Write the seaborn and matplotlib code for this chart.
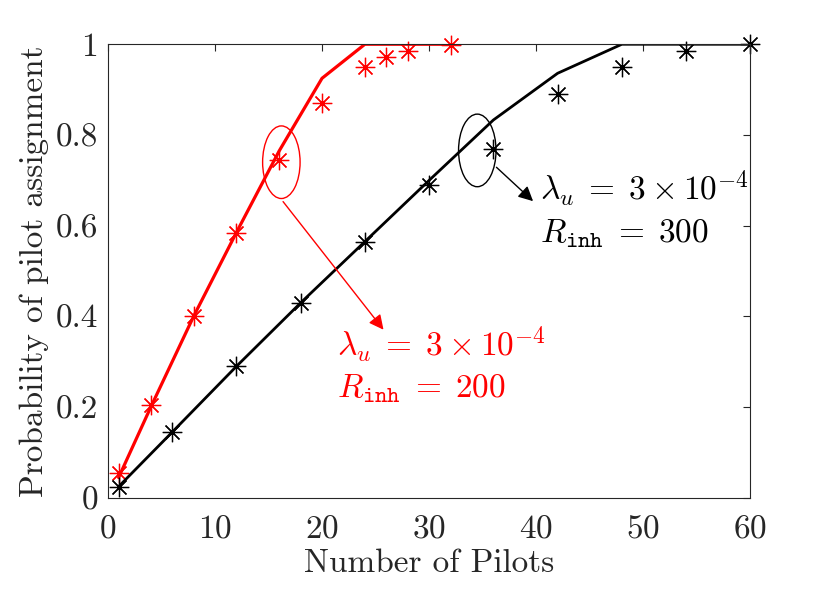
import matplotlib
matplotlib.use("Agg")
import matplotlib.pyplot as plt
from matplotlib.patches import Ellipse
import seaborn as sns

# simulation points (markers) and analytical curves (lines)
red_sim_x = [1, 4, 8, 12, 16, 20, 24, 26, 28, 32]
red_sim_y = [0.055, 0.205, 0.40, 0.585, 0.745, 0.87, 0.95, 0.972, 0.985, 0.998]
red_ana_x = [1, 4, 8, 12, 16, 20, 24, 28, 32]
red_ana_y = [0.045, 0.20, 0.40, 0.585, 0.765, 0.925, 1.0, 1.0, 1.0]

blk_sim_x = [1, 6, 12, 18, 24, 30, 36, 42, 48, 54, 60]
blk_sim_y = [0.025, 0.145, 0.29, 0.43, 0.565, 0.69, 0.77, 0.89, 0.95, 0.985, 1.0]
blk_ana_x = [1, 6, 12, 18, 24, 30, 36, 42, 48, 54, 60]
blk_ana_y = [0.025, 0.145, 0.29, 0.43, 0.565, 0.70, 0.833, 0.936, 1.0, 1.0, 1.0]

xticks = [0, 10, 20, 30, 40, 50, 60]
yticks = [0, 0.2, 0.4, 0.6, 0.8, 1]
ytick_labels = ["0", "0.2", "0.4", "0.6", "0.8", "1"]

sns.set_style("white")
plt.rcParams['font.family'] = ['serif']
plt.rcParams['font.serif'] = ['cmr10', 'DejaVu Serif']
plt.rcParams['mathtext.fontset'] = 'cm'
plt.rcParams['axes.formatter.use_mathtext'] = True
plt.rcParams['axes.unicode_minus'] = False

fig = plt.figure(figsize=(8.3, 5.9), dpi=100)
ax = fig.add_axes([0.130, 0.156, 0.774, 0.769])

ast = (8, 2, 0)
sns.lineplot(x=red_ana_x, y=red_ana_y, color='red', lw=2.3, ax=ax)
sns.lineplot(x=red_sim_x, y=red_sim_y, color='red', linestyle='', marker=ast,
             markersize=14, mec='red', mew=0.9, clip_on=False, ax=ax)
sns.lineplot(x=blk_ana_x, y=blk_ana_y, color='black', lw=2.0, ax=ax)
sns.lineplot(x=blk_sim_x, y=blk_sim_y, color='black', linestyle='', marker=ast,
             markersize=14, mec='black', mew=0.9, clip_on=False, ax=ax)

ax.set_xlim(0, 60)
ax.set_ylim(0, 1)
ax.set_xticks(xticks)
ax.set_yticks(yticks)
ax.set_yticklabels(ytick_labels)
ax.tick_params(direction='in', length=5, width=0.8, top=True, right=True,
               labelsize=24, colors='#262626')
ax.tick_params(axis='x', pad=12)
ax.tick_params(axis='y', pad=7)
for s in ax.spines.values():
    s.set_color('#262626')
    s.set_linewidth(0.8)
ax.set_xlabel('Number of Pilots', fontsize=24, color='#262626', labelpad=4)
ax.set_ylabel('Probability of pilot assignment', fontsize=24, color='#262626', labelpad=5)

# annotations
ax.add_patch(Ellipse((16.2, 0.74), 3.5, 0.16, fill=False, ec='red', lw=1.0))
ax.annotate('', xy=(25.9, 0.366), xytext=(16.2, 0.658),
            arrowprops=dict(arrowstyle='-|>', color='red', lw=1.0, mutation_scale=22))
ax.text(21.4, 0.311, r'$\lambda_u \;=\; 3 \times 10^{-4}$', color='red', fontsize=24, va='baseline')
ax.text(21.4, 0.222, r'$R_{\mathtt{inh}} \;=\; 200$', color='red', fontsize=24, va='baseline')

ax.add_patch(Ellipse((34.5, 0.766), 3.5, 0.16, fill=False, ec='black', lw=1.0))
ax.annotate('', xy=(39.9, 0.65), xytext=(36.1, 0.733),
            arrowprops=dict(arrowstyle='-|>', color='black', lw=1.0, mutation_scale=22))
ax.text(40.4, 0.656, r'$\lambda_u \;=\; 3 \times 10^{-4}$', color='black', fontsize=24, va='baseline')
ax.text(40.4, 0.564, r'$R_{\mathtt{inh}} \;=\; 300$', color='black', fontsize=24, va='baseline')

fig.savefig('out.png', dpi=100)
